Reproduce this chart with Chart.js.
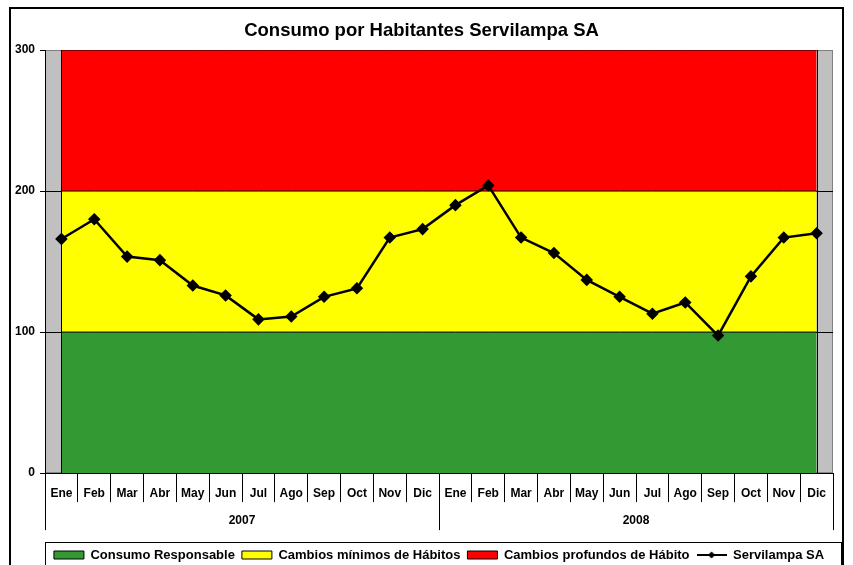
<!DOCTYPE html>
<html>
<head>
<meta charset="utf-8">
<script src="https://cdn.jsdelivr.net/npm/chart.js@4/dist/chart.umd.min.js"></script>
<style>
  html, body { margin: 0; padding: 0; background: #fff; overflow: hidden; }
  #wrap { position: relative; width: 853px; height: 580px; }
  #frame { position: absolute; left: 9px; top: 7px; width: 831px; height: 600px; border: 2px solid #000; pointer-events: none; }
  canvas { position: absolute; left: 0; top: 0; }
</style>
</head>
<body>
<div id="wrap">
  <canvas id="c" width="853" height="580"></canvas>
  <div id="frame"></div>
</div>
<script>
const chartTitle = 'Consumo por Habitantes Servilampa SA';
const monthLabels = ['Ene','Feb','Mar','Abr','May','Jun','Jul','Ago','Sep','Oct','Nov','Dic',
                     'Ene','Feb','Mar','Abr','May','Jun','Jul','Ago','Sep','Oct','Nov','Dic'];
const yearLabels = ['2007', '2008'];
const yTicks = [0, 100, 200, 300];

const bandGreen  = [100,100,100,100,100,100,100,100,100,100,100,100,100,100,100,100,100,100,100,100,100,100,100,100];
const bandYellow = [100,100,100,100,100,100,100,100,100,100,100,100,100,100,100,100,100,100,100,100,100,100,100,100];
const bandRed    = [100,100,100,100,100,100,100,100,100,100,100,100,100,100,100,100,100,100,100,100,100,100,100,100];
const servilampa = [166, 180, 153.5, 151, 133, 126, 109, 111, 125, 131, 167, 173,
                    190, 204, 167, 156, 137, 125, 113, 121, 97.5, 139.5, 167, 170];

const FONT = "'Liberation Sans', Arial, sans-serif";

// legend icon: line with diamond marker
const lineIcon = document.createElement('canvas');
lineIcon.width = 30; lineIcon.height = 10;
(function () {
  const g = lineIcon.getContext('2d');
  g.strokeStyle = '#000'; g.lineWidth = 2;
  g.beginPath(); g.moveTo(0, 5); g.lineTo(30, 5); g.stroke();
  g.fillStyle = '#000';
  g.beginPath(); g.moveTo(15, 1.5); g.lineTo(18.5, 5); g.lineTo(15, 8.5); g.lineTo(11.5, 5); g.closePath(); g.fill();
})();

const plotBg = {
  id: 'plotBg',
  beforeDraw(chart) {
    const a = chart.chartArea, ctx = chart.ctx;
    ctx.save();
    ctx.fillStyle = '#C0C0C0';
    ctx.fillRect(a.left, a.top, a.right - a.left, a.bottom - a.top);
    ctx.strokeStyle = '#808080';
    ctx.lineWidth = 1;
    ctx.strokeRect(a.left + 0.5, a.top + 0.5, a.right - a.left - 1, a.bottom - a.top - 1);
    ctx.restore();
  },
  beforeDatasetDraw(chart, args) {
    // vertical outline of the stacked area bands (Excel-style area border)
    if (args.index !== 3) return;
    const top = chart.getDatasetMeta(2).data;
    if (!top.length) return;
    const yb = chart.scales.y.getPixelForValue(0);
    const ctx = chart.ctx;
    ctx.save();
    ctx.strokeStyle = '#000';
    ctx.lineWidth = 1;
    [top[0], top[top.length - 1]].forEach(p => {
      const x = Math.round(p.x) + 0.5;
      ctx.beginPath(); ctx.moveTo(x, p.y); ctx.lineTo(x, yb); ctx.stroke();
    });
    ctx.restore();
  },
  afterDraw(chart) {
    const L = chart.legend, ctx = chart.ctx;
    if (!L) return;
    ctx.save();
    ctx.strokeStyle = '#000';
    ctx.lineWidth = 1;
    ctx.strokeRect(Math.round(L.left) + 0.5, Math.round(L.top) + 0.5, Math.round(L.width) + 8, Math.round(L.height) + 4);
    ctx.restore();
  }
};

new Chart(document.getElementById('c'), {
  type: 'line',
  data: {
    labels: monthLabels,
    datasets: [
      { label: 'Consumo Responsable', data: bandGreen, stack: 'bands', fill: 'origin',
        backgroundColor: '#339933', borderColor: '#000', borderWidth: 1, pointRadius: 0, order: 1 },
      { label: 'Cambios mínimos de Hábitos', data: bandYellow, stack: 'bands', fill: '-1',
        backgroundColor: '#FFFF00', borderColor: '#000', borderWidth: 1, pointRadius: 0, order: 1 },
      { label: 'Cambios profundos de Hábito', data: bandRed, stack: 'bands', fill: '-1',
        backgroundColor: '#FF0000', borderColor: '#000', borderWidth: 1, pointRadius: 0, order: 1 },
      { label: 'Servilampa SA', data: servilampa, stack: 'line', fill: false,
        borderColor: '#000', backgroundColor: '#000', borderWidth: 2.5,
        pointStyle: 'rectRot', pointRadius: 4.5, pointBackgroundColor: '#000', pointBorderColor: '#000', order: 0 }
    ]
  },
  options: {
    responsive: false,
    animation: false,
    layout: { padding: { left: 10, right: 20, top: 8, bottom: 8.5 } },
    plugins: {
      tooltip: { enabled: false },
      title: {
        display: true, text: chartTitle, color: '#000',
        font: { family: FONT, size: 18.5, weight: 'bold' },
        padding: { top: 11.6, bottom: 8.2 }
      },
      legend: {
        position: 'bottom',
        fullSize: false,
        labels: {
          color: '#000',
          font: { family: FONT, size: 13, weight: 'bold' },
          usePointStyle: true,
          pointStyleWidth: 30,
          boxWidth: 30,
          boxHeight: 8,
          padding: 7,
          sort: (a, b) => a.datasetIndex - b.datasetIndex,
          generateLabels(chart) {
            const items = Chart.defaults.plugins.legend.labels.generateLabels(chart);
            items.forEach(it => {
              if (it.datasetIndex === 3) {
                it.pointStyle = lineIcon;
              } else {
                it.pointStyle = 'rect';
                it.lineWidth = 1;
                it.strokeStyle = '#000';
              }
            });
            return items;
          }
        }
      }
    },
    scales: {
      x: {
        type: 'category',
        position: 'bottom',
        offset: true,
        grid: { offset: true, drawOnChartArea: false, drawTicks: true, tickLength: 29, color: '#000', lineWidth: 1 },
        border: { display: true, color: '#000', width: 1 },
        ticks: { color: '#000', font: { family: FONT, size: 12, weight: 'bold' }, padding: -16, autoSkip: false, maxRotation: 0 },
        afterFit(scale) { scale.height = 29; }
      },
      x2: {
        type: 'category',
        position: 'bottom',
        labels: yearLabels,
        offset: true,
        grid: { offset: true, drawOnChartArea: false, drawTicks: true, tickLength: 28, color: '#000', lineWidth: 1 },
        border: { display: false },
        ticks: { color: '#000', font: { family: FONT, size: 12, weight: 'bold' }, padding: -17, autoSkip: false, maxRotation: 0 },
        afterFit(scale) { scale.height = 39.4; }
      },
      y: {
        stacked: true,
        min: 0, max: 300,
        afterBuildTicks(scale) { scale.ticks = yTicks.map(v => ({ value: v })); },
        grid: {
          color: ctx => (ctx.tick && (ctx.tick.value === 100 || ctx.tick.value === 200)) ? '#000' : 'rgba(0,0,0,0)',
          tickColor: '#000', tickLength: 5, drawTicks: true, lineWidth: 1
        },
        border: { display: true, color: '#000', width: 1 },
        ticks: { color: '#000', font: { family: FONT, size: 12, weight: 'bold' }, padding: 5 }
      }
    }
  },
  plugins: [plotBg]
});
</script>
</body>
</html>
